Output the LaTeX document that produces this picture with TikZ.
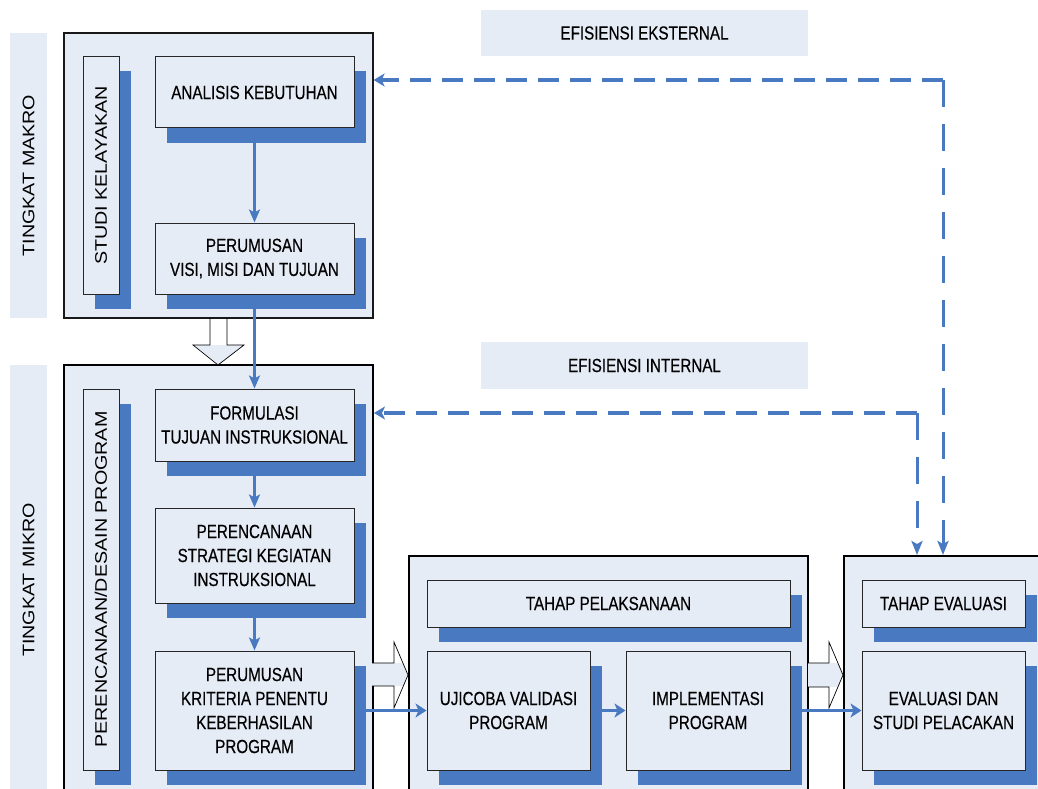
\documentclass[tikz,border=0pt]{standalone}
\usepackage{fontspec}
\setmainfont{Liberation Sans}
\newfontfamily\nar[FakeStretch=0.8,FakeBold=0.35]{Liberation Sans}
\usetikzlibrary{arrows.meta,shadows}
\definecolor{lb}{RGB}{230,236,246}
\definecolor{sb}{RGB}{72,121,193}
\tikzset{
  txt/.style={font=\nar\fontsize{19}{24}\selectfont, align=center, text=black},
  vtxt/.style={font=\fontsize{19.7}{24}\selectfont},
  ibox/.style={txt, draw=black!85, line width=1pt, fill=lb, inner sep=0pt,
     general shadow={fill=sb, shadow xshift=11.5pt, shadow yshift=-14.5pt}},
  vbox/.style={ibox, vtxt},
  band/.style={fill=lb, inner sep=0pt, vtxt},
  outerbox/.style={draw=black, line width=2pt, fill=lb, inner sep=0pt},
  lab/.style={txt, fill=lb, inner sep=0pt},
  vflow/.style={draw=sb, line width=2.5pt, -{Stealth[length=13pt,width=11pt,inset=3pt]}},
  hflow/.style={draw=sb, line width=3.8pt, -{Stealth[length=11pt,width=14pt,inset=3pt]}},
  dh/.style={draw=sb, line width=3.2pt, dash pattern=on 21pt off 11pt, -{Stealth[length=11pt,width=13pt,inset=3pt]}},
  dv/.style={draw=sb, line width=3pt, dash pattern=on 27pt off 17pt, -{Stealth[length=14pt,width=11pt,inset=3pt]}},
  blk/.style={draw=black, line width=0.7pt},
}
\begin{document}
\begin{tikzpicture}[x=1pt,y=-1pt]
\useasboundingbox (0,0) rectangle (1038,789);
% side bands
\node[band, minimum width=37pt, minimum height=285pt] (bmak) at (28.5,175.5) {\rotatebox{90}{\scalebox{1}[0.85]{TINGKAT MAKRO}}};
\node[band, minimum width=37pt, minimum height=430pt] (bmik) at (28.5,580) {\rotatebox{90}{\scalebox{1}[0.85]{TINGKAT MIKRO}}};
% containers
\node[outerbox, draw=black!90, line width=1.2pt, minimum width=309pt, minimum height=285pt] (makro) at (218.5,175.5) {};
\node[outerbox, minimum width=309pt, minimum height=435pt] (mikro) at (218.5,582.5) {};
\node[outerbox, minimum width=399pt, minimum height=244pt] (pel) at (608.5,678) {};
\node[outerbox, minimum width=206pt, minimum height=244pt] (eva) at (947,678) {};
% labels
\node[lab, minimum width=327pt, minimum height=46pt] (efe) at (644.5,33) {EFISIENSI EKSTERNAL};
\node[lab, minimum width=327pt, minimum height=47pt] (efi) at (644.5,365.5) {EFISIENSI INTERNAL};
% block arrows
\fill[lb] (193,345) -- (218,365) -- (244,345) -- cycle;
\draw[blk] (210,318) -- (210,345) -- (193,345) -- (218,365) -- (244,345) -- (227,345) -- (227,318);
\begin{scope}
\clip (372,663) -- (394,663) -- (394,642) -- (408,675) -- (394,708) -- (394,686) -- (372,686) -- cycle;
\fill[lb] (372,663) rectangle (410,686);
\end{scope}
\draw[blk] (372,663) -- (394,663) -- (394,642) -- (408,675) -- (394,708) -- (394,686) -- (372,686);
\begin{scope}
\clip (808,663) -- (829,663) -- (829,642) -- (843,675) -- (829,708) -- (829,687) -- (808,687) -- cycle;
\fill[lb] (808,663) rectangle (845,687);
\end{scope}
\draw[blk] (808,663) -- (829,663) -- (829,642) -- (843,675) -- (829,708) -- (829,687) -- (808,687);
% inner boxes
\node[vbox, minimum width=36pt, minimum height=237pt] (studi) at (101,175.5) {\rotatebox{90}{\scalebox{1}[0.85]{STUDI KELAYAKAN}}};
\node[ibox, minimum width=199pt, minimum height=71pt] (ak) at (254.5,92.5) {ANALISIS KEBUTUHAN};
\node[ibox, minimum width=199pt, minimum height=71pt] (pv) at (254.5,258.5) {PERUMUSAN\\VISI, MISI DAN TUJUAN};
\node[vbox, minimum width=36pt, minimum height=381pt] (pdp) at (101,579.5) {\rotatebox{90}{\scalebox{1}[0.85]{PERENCANAAN/DESAIN PROGRAM}}};
\node[ibox, minimum width=199pt, minimum height=72pt] (fti) at (254.5,425) {FORMULASI\\TUJUAN INSTRUKSIONAL};
\node[ibox, minimum width=199pt, minimum height=95pt] (psk) at (254.5,555.5) {PERENCANAAN\\STRATEGI KEGIATAN\\INSTRUKSIONAL};
\node[ibox, minimum width=199pt, minimum height=119pt] (pkp) at (254.5,710.5) {PERUMUSAN\\KRITERIA PENENTU\\KEBERHASILAN\\PROGRAM};
\node[ibox, minimum width=363pt, minimum height=47pt] (tp) at (608.5,603.5) {TAHAP PELAKSANAAN};
\node[ibox, minimum width=163pt, minimum height=119pt] (uji) at (508.5,710.5) {UJICOBA VALIDASI\\PROGRAM};
\node[ibox, minimum width=164pt, minimum height=119pt] (imp) at (708,710.5) {IMPLEMENTASI\\PROGRAM};
\node[ibox, minimum width=163pt, minimum height=47pt] (te) at (943.5,603.5) {TAHAP EVALUASI};
\node[ibox, minimum width=163pt, minimum height=119pt] (eds) at (943.5,710.5) {EVALUASI DAN\\STUDI PELACAKAN};
% solid connectors
\draw[vflow] (ak.south) -- (pv.north);
\draw[vflow] (pv.south) -- (fti.north);
\draw[vflow] (fti.south) -- (psk.north);
\draw[vflow] (psk.south) -- (pkp.north);
\draw[hflow] (pkp.east) -- (uji.west);
\draw[hflow] (uji.east) -- (imp.west);
\draw[hflow] (imp.east) -- (eds.west);
% dashed feedback
\coordinate (ce) at (943,80);
\coordinate (ci) at (917,413);
\draw[dh] (ce) -- (ce -| makro.east);
\draw[dv] (ce) -- (ce |- eva.north);
\draw[dh] (ci) -- (ci -| mikro.east);
\draw[dv] (ci) -- (ci |- eva.north);
\end{tikzpicture}
\end{document}
